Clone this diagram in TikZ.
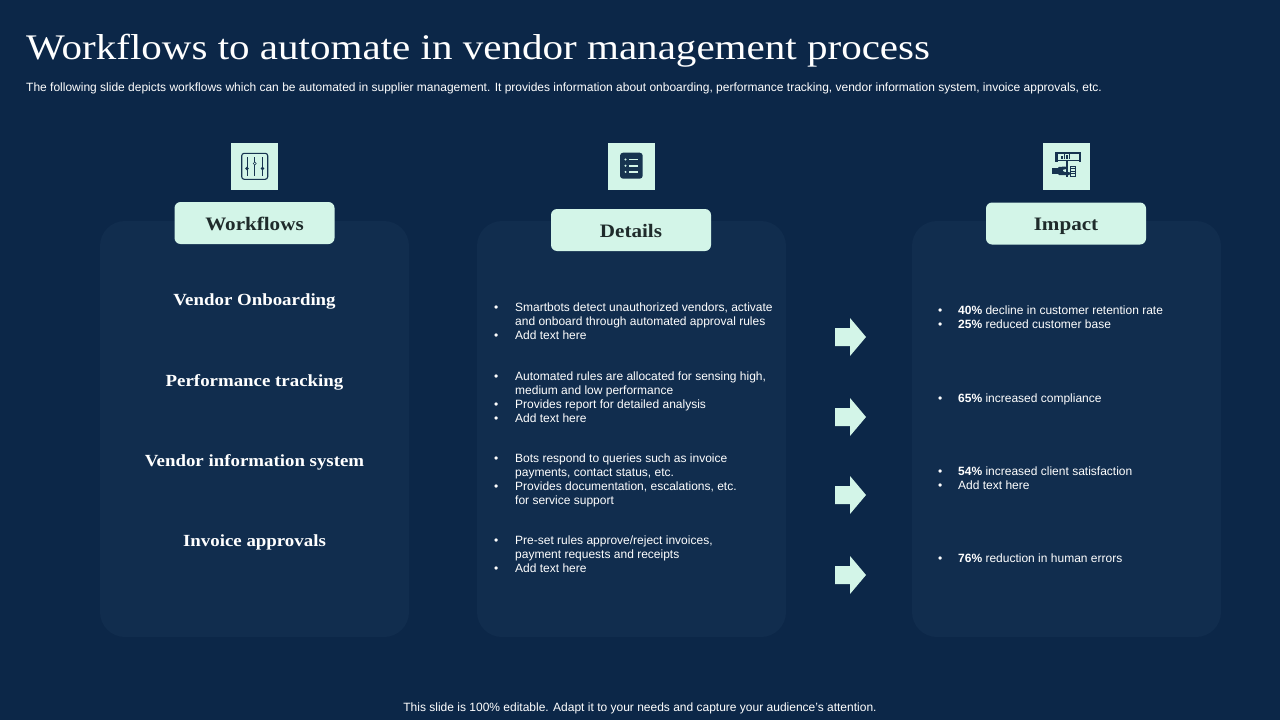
\documentclass[tikz,border=0pt]{standalone}
\usepackage{fontspec}
\setmainfont{Liberation Sans}
\newfontfamily\titlefont[FakeStretch=1.14]{Liberation Serif}
\newfontfamily\headfont[FakeStretch=1.11]{Liberation Serif}
\definecolor{bg}{HTML}{0C2748}
\definecolor{panel}{HTML}{112D4E}
\definecolor{mint}{HTML}{D3F5E8}
\definecolor{ink}{HTML}{1F2B2B}
\definecolor{iconink}{HTML}{173450}
\begin{document}
\begin{tikzpicture}[x=1pt,y=-1pt,
  panelbox/.style={fill=panel,rounded corners=25pt,minimum width=309pt,minimum height=416pt,inner sep=0pt},
  labelbox/.style={fill=mint,rounded corners=6pt,minimum width=160pt,minimum height=42pt,inner sep=0pt,text=ink,text height=14pt,text depth=0pt,font=\headfont\bfseries\fontsize{19}{22}\selectfont},
  iconbox/.style={fill=mint,minimum width=47pt,minimum height=47pt,inner sep=0pt},
  wftext/.style={text=white,text height=12pt,text depth=0pt,font=\headfont\bfseries\fontsize{17}{20}\selectfont,inner sep=0pt},
  bullets/.style={text=white,anchor=west,inner sep=0pt,font=\fontsize{12}{14}\selectfont},
  arrowshape/.style={fill=mint}
]
\useasboundingbox (0,0) rectangle (1280,720);
\fill[bg] (0,0) rectangle (1280,720);

% title and subtitle
\node[anchor=base west,inner sep=0pt,text=white,font=\titlefont\fontsize{36}{40}\selectfont] (title) at (26,59) {Workflows to automate in vendor management process};
\node[anchor=west,inner sep=0pt,text=white,font=\fontsize{12}{14}\selectfont] (sub) at (26,88) {The following slide depicts workflows which can be automated in supplier management. It provides information about onboarding, performance tracking, vendor information system, invoice approvals, etc.};

% panels
\node[panelbox] (p1) at (254.5,429) {};
\node[panelbox] (p2) at (631.5,429) {};
\node[panelbox] (p3) at (1066.5,429) {};

% icons
\node[iconbox] (i1) at (254.5,166.5) {};
\node[iconbox] (i2) at (631.5,166.5) {};
\node[iconbox] (i3) at (1066.5,166.5) {};

% icon 1: sliders
\draw[iconink,line width=1.1pt,rounded corners=2.5pt] (241.7,153.3) rectangle (267.7,179.3);
\foreach \x/\k in {247/168.5,254.7/163.5,262.4/168.5}{
  \draw[iconink,line width=1pt] (\x,157) -- (\x,176);
  \fill[iconink] (\x,\k) circle (1.9pt);
}
\fill[mint] (254.7,163.5) circle (0.8pt);

% icon 2: list
\fill[iconink,rounded corners=3pt] (620,152.7) rectangle (642.7,178.7);
\foreach \y in {159.5,165.7,171.9}{
  \fill[mint] (625.5,\y) circle (1.1pt);
  \draw[mint,line width=1.6pt] (628.8,\y) -- (637.8,\y);
}

% icon 3: presentation board with hand
\draw[iconink,line width=1.2pt] (1056.5,153) rectangle (1079.5,160.5);
\fill[iconink] (1055,152) rectangle (1057.5,161.5);
\fill[iconink] (1078.5,152) rectangle (1081,161.5);
\foreach \x/\h in {1061/3,1063.5/5,1066/4,1068.5/6}{
  \fill[iconink] (\x,159) rectangle ++(1.5,-\h);
}
\draw[iconink,line width=1.2pt] (1067,160.5) -- (1067,177);
\fill[iconink] (1052,168) rectangle (1058,174);
\fill[iconink,rounded corners=1pt] (1058,167) -- (1066,166.5) -- (1068,168.5) -- (1062,170) -- (1064,172) -- (1070,172) -- (1070,175) -- (1058,175) -- cycle;
\draw[iconink,line width=0.9pt] (1070,166) rectangle (1075,176);
\foreach \y in {168.5,171,173.5}{\draw[iconink,line width=0.6pt] (1070.5,\y) -- (1074.5,\y);}

% label boxes
\node[labelbox] (l1) at (254.5,223) {Workflows};
\node[labelbox] (l2) at (631,230) {Details};
\node[labelbox] (l3) at (1066,223.5) {Impact};

% workflow names
\node[wftext] (w1) at (254.5,299) {Vendor Onboarding};
\node[wftext] (w2) at (254.5,380) {Performance tracking};
\node[wftext] (w3) at (254.5,460) {Vendor information system};
\node[wftext] (w4) at (254.5,540) {Invoice approvals};

% details
\newcommand{\bl}{{\fontsize{12}{12}\selectfont\textbullet}}
\node[bullets] (d1) at (494,323) {\begin{tabular}{@{}p{21pt}@{}l@{}}
\bl & Smartbots detect unauthorized vendors, activate\\
 & and onboard through automated approval rules\\
\bl & Add text here\end{tabular}};
\node[bullets] (d2) at (494,398.5) {\begin{tabular}{@{}p{21pt}@{}l@{}}
\bl & Automated rules are allocated for sensing high,\\
 & medium and low performance\\
\bl & Provides report for detailed analysis\\
\bl & Add text here\end{tabular}};
\node[bullets] (d3) at (494,480.5) {\begin{tabular}{@{}p{21pt}@{}l@{}}
\bl & Bots respond to queries such as invoice\\
 & payments, contact status, etc.\\
\bl & Provides documentation, escalations, etc.\\
 & for service support\end{tabular}};
\node[bullets] (d4) at (494,556) {\begin{tabular}{@{}p{21pt}@{}l@{}}
\bl & Pre-set rules approve/reject invoices,\\
 & payment requests and receipts\\
\bl & Add text here\end{tabular}};

% arrows
\foreach \y/\n in {337/a1,417/a2,495/a3,575/a4}{
  \fill[arrowshape] (835,\y-9) -- (850,\y-9) -- (850,\y-19) -- (866,\y) -- (850,\y+19) -- (850,\y+9) -- (835,\y+9) -- cycle;
  \coordinate (\n) at (850,\y);
}

% impact
\node[bullets] (m1) at (938,319) {\begin{tabular}{@{}p{20pt}@{}l@{}}
\bl & \textbf{40\%} decline in customer retention rate\\
\bl & \textbf{25\%} reduced customer base\end{tabular}};
\node[bullets] (m2) at (938,400) {\begin{tabular}{@{}p{20pt}@{}l@{}}
\bl & \textbf{65\%} increased compliance\end{tabular}};
\node[bullets] (m3) at (938,480) {\begin{tabular}{@{}p{20pt}@{}l@{}}
\bl & \textbf{54\%} increased client satisfaction\\
\bl & Add text here\end{tabular}};
\node[bullets] (m4) at (938,560) {\begin{tabular}{@{}p{20pt}@{}l@{}}
\bl & \textbf{76\%} reduction in human errors\end{tabular}};

% footer
\node[text=white,inner sep=0pt,font=\fontsize{12}{14}\selectfont] (foot) at (640,708) {This slide is 100\% editable. Adapt it to your needs and capture your audience's attention.};
\end{tikzpicture}
\end{document}
